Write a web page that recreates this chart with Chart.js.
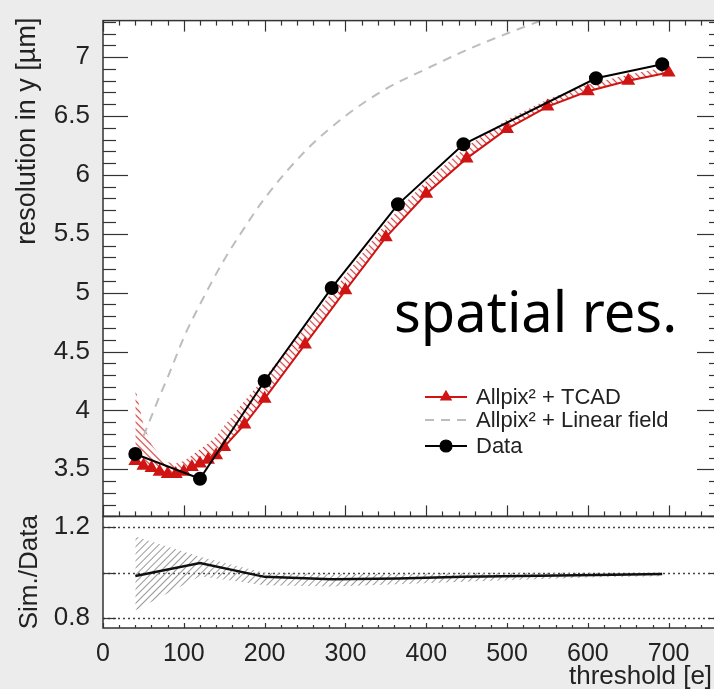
<!DOCTYPE html>
<html>
<head>
<meta charset="utf-8">
<script src="https://cdn.jsdelivr.net/npm/chart.js@4.4.1/dist/chart.umd.min.js"></script>
<style>
html, body { margin: 0; padding: 0; overflow: hidden; background: #ececec; }
#wrap { position: relative; width: 730px; height: 689px; }
</style>
</head>
<body>
<div id="wrap"><canvas id="resChart" width="730" height="689"></canvas></div>
<script>
// Allpix^2 + TCAD simulation (threshold in e, resolution in um)
const tcadX = [40, 50, 60, 70, 80, 90, 100, 110, 120, 130, 140, 150, 175, 200, 250, 300, 350, 400, 450, 500, 550, 600, 650, 700];
const tcadY = [3.57, 3.53, 3.51, 3.48, 3.46, 3.46, 3.48, 3.52, 3.55, 3.58, 3.62, 3.69, 3.88, 4.10, 4.56, 5.02, 5.47, 5.84, 6.14, 6.39, 6.58, 6.71, 6.80, 6.87];
// upper edge of the hatched systematic band
const tcadBandTop = [4.19, 3.88, 3.71, 3.62, 3.56, 3.55, 3.57, 3.62, 3.67, 3.72, 3.78, 3.87, 4.08, 4.28, 4.71, 5.15, 5.59, 5.95, 6.24, 6.47, 6.64, 6.77, 6.85, 6.92];

// Allpix^2 + linear field
const linearX = [50, 60, 70, 80, 90, 100, 120, 150, 175, 200, 250, 300, 350, 400, 450, 500, 550, 600];
const linearY = [3.78, 3.95, 4.12, 4.28, 4.45, 4.62, 4.90, 5.28, 5.55, 5.80, 6.20, 6.50, 6.73, 6.90, 7.06, 7.20, 7.33, 7.45];

// measured data
const dataX = [40, 120, 200, 283, 365, 446, 610, 692];
const dataY = [3.63, 3.42, 4.25, 5.04, 5.75, 6.26, 6.82, 6.94];

// lower pad: Sim./Data
const ratioY = [0.986, 1.043, 0.982, 0.972, 0.975, 0.982, 0.99, 0.995];
const ratioBandLow = [0.835, 0.985, 0.945, 0.94, 0.95, 0.96, 0.98, 0.985];
const ratioBandHigh = [1.16, 1.07, 1.0, 0.995, 0.995, 1.0, 1.0, 1.0];

const xTicks = [0, 100, 200, 300, 400, 500, 600, 700];
const yTicks = [3.5, 4, 4.5, 5, 5.5, 6, 6.5, 7];
const ratioTicks = [0.8, 1, 1.2];

const RED = '#d01414';
const FRAME = '#333';
const TXT = '#222';

Chart.defaults.font.family = 'Liberation Sans';

function pts(xs, ys) {
    return xs.map((x, i) => ({ x: x, y: ys[i] }));
}

function hatch(color, angle, gap, lw) {
    const tile = document.createElement('canvas');
    tile.width = gap;
    tile.height = gap;
    const t = tile.getContext('2d');
    t.strokeStyle = color;
    t.lineWidth = lw;
    t.beginPath();
    t.moveTo(gap / 2, 0);
    t.lineTo(gap / 2, gap);
    t.stroke();
    const p = t.createPattern(tile, 'repeat');
    p.setTransform(new DOMMatrix().rotate(angle));
    return p;
}

const plainLabel = v => String(v);

// ROOT style frame, inward ticks, legend and labels
const rootStyle = {
    id: 'rootStyle',
    beforeDraw(chart) {
        const a = chart.chartArea;
        const ctx = chart.ctx;
        ctx.save();
        ctx.fillStyle = '#fff';
        ctx.fillRect(a.left, a.top, a.right - a.left, a.bottom - a.top);
        ctx.restore();
    },
    beforeDatasetsDraw(chart) {
        const ctx = chart.ctx;
        const x = chart.scales.x, r = chart.scales.y2;
        ctx.save();
        ctx.strokeStyle = '#444';
        ctx.lineWidth = 1.3;
        ctx.setLineDash([2, 3]);
        ratioTicks.forEach(v => {
            const py = Math.round(r.getPixelForValue(v)) + 0.5;
            ctx.beginPath();
            ctx.moveTo(x.left, py);
            ctx.lineTo(x.right, py);
            ctx.stroke();
        });
        ctx.restore();
    },
    afterDraw(chart) {
        const ctx = chart.ctx;
        const x = chart.scales.x, y = chart.scales.y, r = chart.scales.y2;
        ctx.save();
        ctx.strokeStyle = FRAME;
        ctx.lineWidth = 1.5;
        ctx.strokeRect(x.left, y.top, x.right - x.left, y.bottom - y.top);
        ctx.strokeRect(x.left, r.top, x.right - x.left, r.bottom - r.top);

        ctx.lineWidth = 1.2;
        const line = (x1, y1, x2, y2) => {
            ctx.beginPath();
            ctx.moveTo(x1, y1);
            ctx.lineTo(x2, y2);
            ctx.stroke();
        };
        // x ticks every 20, majors every 100
        for (let k = 0; k <= x.max; k += 20) {
            const px = Math.round(x.getPixelForValue(k)) + 0.5;
            const major = k % 100 === 0;
            const l = major ? 11 : 5;
            line(px, y.top, px, y.top + l);
            line(px, y.bottom, px, y.bottom - l);
            line(px, r.bottom, px, r.bottom - (major ? 5 : 3));
        }
        // y ticks every 0.1, majors every 0.5
        for (let k = Math.ceil(y.min * 10); k <= Math.floor(y.max * 10); k++) {
            const py = Math.round(y.getPixelForValue(k / 10)) + 0.5;
            const l = k % 5 === 0 ? 25 : 13;
            line(x.left, py, x.left + l, py);
            line(x.right, py, x.right - l, py);
        }
        ratioTicks.forEach(v => {
            const py = Math.round(r.getPixelForValue(v)) + 0.5;
            line(x.left, py, x.left + 13, py);
            line(x.right, py, x.right - 13, py);
        });

        // legend
        const ds = chart.data.datasets;
        const rows = [
            { d: ds[1], y: 397, text: 'Allpix\u00b2 + TCAD', marker: 'triangle' },
            { d: ds[2], y: 420, text: 'Allpix\u00b2 + Linear field', marker: null },
            { d: ds[3], y: 446, text: 'Data', marker: 'circle' }
        ];
        rows.forEach(row => {
            ctx.save();
            ctx.strokeStyle = row.d.borderColor;
            ctx.lineWidth = row.d.borderWidth;
            ctx.setLineDash(row.d.borderDash || []);
            line(425, row.y, 467, row.y);
            ctx.restore();
            if (row.marker) {
                ctx.save();
                ctx.fillStyle = row.d.borderColor;
                ctx.strokeStyle = row.d.borderColor;
                Chart.helpers.drawPoint(ctx, { pointStyle: row.marker, radius: row.d.pointRadius, rotation: 0, borderWidth: 1 }, 446, row.y);
                ctx.restore();
            }
            ctx.fillStyle = TXT;
            ctx.font = '22px "Liberation Sans"';
            ctx.textAlign = 'left';
            ctx.textBaseline = 'middle';
            ctx.fillText(row.text, 476, row.y + 1);
        });

        // axis titles
        ctx.fillStyle = TXT;
        ctx.textBaseline = 'alphabetic';
        ctx.save();
        ctx.translate(35, y.top - 3);
        ctx.rotate(-Math.PI / 2);
        ctx.textAlign = 'right';
        ctx.font = '27px "Liberation Sans"';
        ctx.fillText('resolution in y [\u00b5m]', 0, 0);
        ctx.restore();

        ctx.save();
        ctx.translate(37, (r.top + r.bottom) / 2);
        ctx.rotate(-Math.PI / 2);
        ctx.textAlign = 'center';
        ctx.font = '26px "Liberation Sans"';
        ctx.fillText('Sim./Data', 0, 0);
        ctx.restore();

        ctx.textAlign = 'left';
        ctx.font = '26px "Liberation Sans"';
        ctx.fillText('threshold [e]', 569, 684);

        // overlay label
        ctx.fillStyle = '#000';
        ctx.font = '56px "Noto Sans"';
        ctx.fillText('spatial res.', 394, 332);
        ctx.restore();
    }
};

const ctx = document.getElementById('resChart').getContext('2d');
const resChart = new Chart(ctx, {
    type: 'line',
    data: {
        datasets: [
            {
                label: 'TCAD band',
                data: pts(tcadX, tcadBandTop),
                yAxisID: 'y',
                borderColor: 'rgba(0,0,0,0)',
                borderWidth: 1,
                pointRadius: 0,
                fill: 1,
                backgroundColor: hatch('#d23a3a', -45, 5, 1.2),
                order: 6
            },
            {
                label: 'Allpix\u00b2 + TCAD',
                data: pts(tcadX, tcadY),
                yAxisID: 'y',
                borderColor: RED,
                borderWidth: 2,
                pointStyle: 'triangle',
                pointRadius: 6,
                pointBackgroundColor: RED,
                pointBorderColor: RED,
                order: 3
            },
            {
                label: 'Allpix\u00b2 + Linear field',
                data: pts(linearX, linearY),
                yAxisID: 'y',
                borderColor: '#bdbdbd',
                borderDash: [9, 7],
                borderWidth: 2,
                pointRadius: 0,
                cubicInterpolationMode: 'monotone',
                order: 4
            },
            {
                label: 'Data',
                data: pts(dataX, dataY),
                yAxisID: 'y',
                borderColor: '#000',
                borderWidth: 2,
                pointStyle: 'circle',
                pointRadius: 6,
                pointBackgroundColor: '#000',
                pointBorderColor: '#000',
                order: 1
            },
            {
                label: 'ratio band low',
                data: pts(dataX, ratioBandLow),
                yAxisID: 'y2',
                borderColor: 'rgba(0,0,0,0)',
                borderWidth: 1,
                pointRadius: 0,
                order: 7
            },
            {
                label: 'ratio band high',
                data: pts(dataX, ratioBandHigh),
                yAxisID: 'y2',
                borderColor: 'rgba(0,0,0,0)',
                borderWidth: 1,
                pointRadius: 0,
                fill: 4,
                backgroundColor: hatch('#9a9a9a', 45, 5, 1),
                order: 7
            },
            {
                label: 'Sim./Data',
                data: pts(dataX, ratioY),
                yAxisID: 'y2',
                borderColor: '#111',
                borderWidth: 2.5,
                pointRadius: 0,
                order: 2
            }
        ]
    },
    options: {
        responsive: false,
        animation: false,
        events: [],
        layout: { padding: { left: 0, top: 13, right: 5, bottom: 0 } },
        elements: { line: { tension: 0 } },
        plugins: {
            legend: { display: false },
            tooltip: { enabled: false }
        },
        scales: {
            x: {
                type: 'linear',
                min: 0,
                max: 766,
                position: 'bottom',
                grid: { display: false },
                border: { display: false },
                ticks: { color: TXT, font: { size: 25 }, padding: 3, maxRotation: 0, callback: plainLabel },
                afterBuildTicks: s => { s.ticks = xTicks.map(v => ({ value: v })); },
                afterFit: s => { s.height = 61; }
            },
            y: {
                type: 'linear',
                position: 'left',
                stack: 'pads',
                stackWeight: 502,
                weight: 2,
                min: 3.1,
                max: 7.31,
                grid: { display: false },
                border: { display: false },
                ticks: { color: TXT, font: { size: 26 }, padding: 5, callback: plainLabel },
                afterBuildTicks: s => { s.ticks = yTicks.map(v => ({ value: v })); },
                afterFit: s => { s.width = 103; }
            },
            y2: {
                type: 'linear',
                position: 'left',
                stack: 'pads',
                stackWeight: 113,
                weight: 1,
                min: 0.757,
                max: 1.248,
                grid: { display: false },
                border: { display: false },
                ticks: { color: TXT, font: { size: 26 }, padding: 5, callback: plainLabel },
                afterBuildTicks: s => { s.ticks = ratioTicks.map(v => ({ value: v })); },
                afterFit: s => { s.width = 103; }
            }
        }
    },
    plugins: [rootStyle]
});
</script>
</body>
</html>
